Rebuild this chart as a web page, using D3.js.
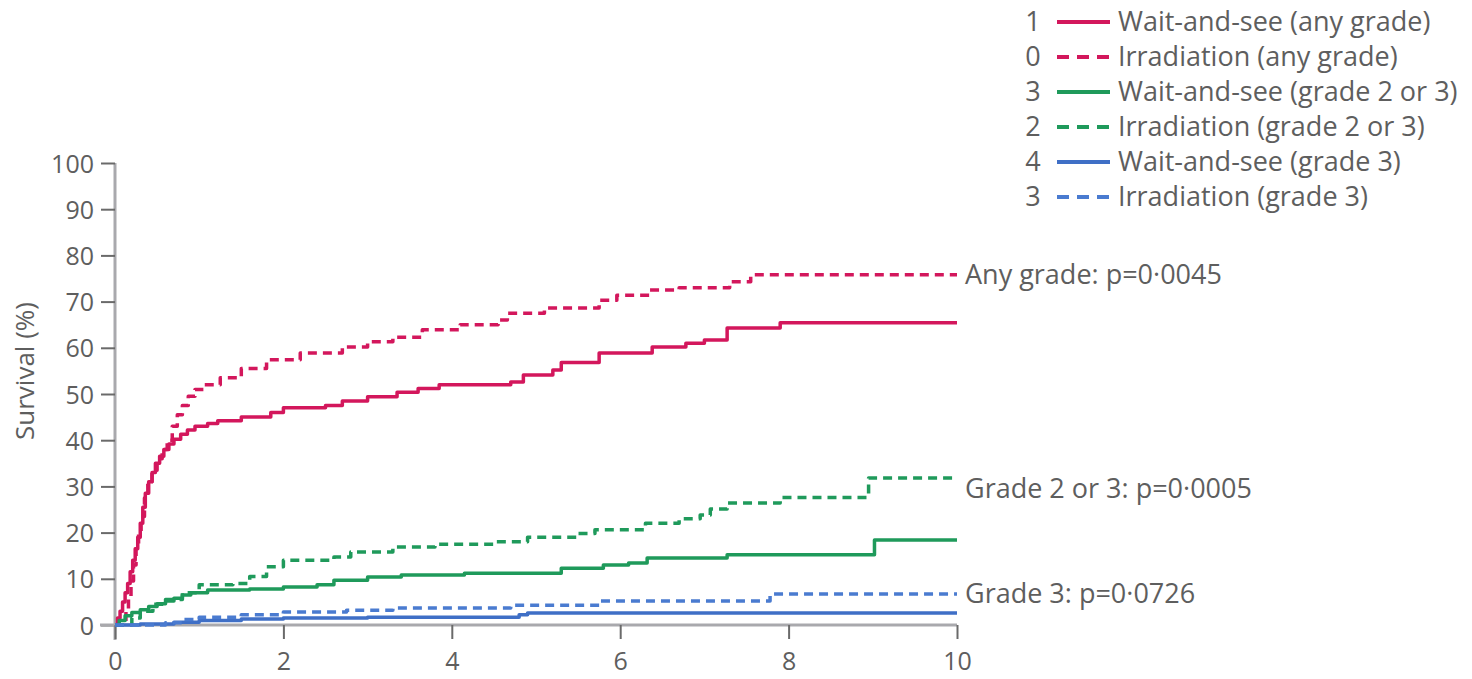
<!DOCTYPE html>
<html>
<head>
<meta charset="utf-8">
<script src="https://cdn.jsdelivr.net/npm/d3@7/dist/d3.min.js"></script>
<style>
  html, body { margin: 0; padding: 0; background: #fff; }
  svg { display: block; }
  text { font-family: "Open Sans", "Noto Sans", sans-serif; fill: #5e5e5e; }
</style>
</head>
<body>
<svg id="chart" width="1472" height="679"></svg>
<script>
// Cumulative incidence, in %, as [years, value] step points
const waitAny = [[0,0],[0.03,1.5],[0.06,3],[0.09,5],[0.12,7],[0.15,9],[0.18,11.5],[0.21,14],[0.24,16.5],[0.27,19],[0.3,22],[0.33,25.5],[0.36,28.5],[0.4,31],[0.44,33],[0.48,35],[0.53,36.5],[0.58,38],[0.64,39.2],[0.7,40.2],[0.78,41.3],[0.86,42.2],[0.95,43],[1.1,43.6],[1.22,44.2],[1.5,45],[1.85,46],[2.0,47],[2.5,47.5],[2.7,48.5],[3.0,49.4],[3.35,50.4],[3.6,51.2],[3.85,52],[4.7,52.6],[4.85,54.1],[5.2,55.2],[5.3,56.8],[5.75,58.9],[6.38,60.2],[6.78,61],[7.0,61.7],[7.27,64.3],[7.9,65.4],[10,65.4]];
const irrAny = [[0,0],[0.1,0],[0.13,3],[0.16,6],[0.19,9.5],[0.22,13],[0.25,16.5],[0.28,20],[0.31,23.5],[0.35,27.5],[0.39,31],[0.44,33.5],[0.5,36],[0.56,38],[0.62,40],[0.68,43],[0.74,45.5],[0.8,47.5],[0.87,49.5],[0.95,51],[1.05,52],[1.25,53.5],[1.5,55.5],[1.8,57.4],[2.2,58.9],[2.7,60.2],[3.0,61.3],[3.3,62.3],[3.65,63.9],[4.1,65],[4.55,66],[4.66,67.5],[5.1,68.6],[5.75,70.3],[5.96,71.4],[6.35,72.5],[6.7,73],[7.3,74.3],[7.55,75.8],[10,75.8]];
const waitG23 = [[0,0],[0.05,1],[0.12,2],[0.2,2.7],[0.3,3.3],[0.4,4],[0.5,4.6],[0.6,5.2],[0.7,5.8],[0.8,6.5],[0.9,7],[1.1,7.6],[1.6,7.8],[2.0,8.2],[2.4,8.7],[2.6,9.7],[3.0,10.4],[3.4,10.8],[4.15,11.2],[5.3,12.3],[5.8,13],[6.1,13.4],[6.32,14.5],[7.27,15.2],[9.02,18.4],[10,18.4]];
const irrG23 = [[0,0],[0.15,0],[0.2,1.5],[0.3,3],[0.45,4.5],[0.6,5.5],[0.8,7],[1.0,8.7],[1.4,9],[1.6,10.5],[1.8,12.6],[2.0,14],[2.6,14.7],[2.8,15.8],[3.3,16.9],[3.8,17.5],[4.5,18],[4.9,19],[5.5,19.8],[5.7,20.6],[6.3,22],[6.7,23],[6.95,23.8],[7.07,25.1],[7.27,26.4],[7.9,27.6],[8.95,31.8],[10,31.8]];
const waitG3 = [[0,0],[0.3,0.2],[0.7,0.6],[1.0,1.0],[1.5,1.3],[2.0,1.5],[3.0,1.7],[4.8,2.2],[4.9,2.6],[10,2.6]];
const irrG3 = [[0,0],[0.5,0],[0.6,0.5],[0.8,1.2],[1.0,1.7],[1.5,2.2],[2.0,2.8],[2.75,3.2],[3.3,3.7],[4.7,4.3],[5.75,5.2],[7.78,6.7],[10,6.7]];

const xTicks = [0, 2, 4, 6, 8, 10];
const yTicks = [0, 10, 20, 30, 40, 50, 60, 70, 80, 90, 100];

const legendCounts = ["1", "0", "3", "2", "4", "3"];
const legendLabels = [
  "Wait-and-see (any grade)",
  "Irradiation (any grade)",
  "Wait-and-see (grade 2 or 3)",
  "Irradiation (grade 2 or 3)",
  "Wait-and-see (grade 3)",
  "Irradiation (grade 3)"
];
const pLabels = ["Any grade: p=0·0045", "Grade 2 or 3: p=0·0005", "Grade 3: p=0·0726"];
const pLabelValues = [75.8, 31.8, 6.7];

const COL = { mag: "#d3175c", green: "#1f9a5b", blue: "#3f6fc6", blueLight: "#4a7bd0" };
const series = [
  { data: waitAny, color: COL.mag, dashed: false },
  { data: irrAny, color: COL.mag, dashed: true },
  { data: waitG23, color: COL.green, dashed: false },
  { data: irrG23, color: COL.green, dashed: true },
  { data: waitG3, color: COL.blue, dashed: false },
  { data: irrG3, color: COL.blueLight, dashed: true }
];

const FS = 27;
const svg = d3.select("#chart");
const x = d3.scaleLinear().domain([0, 10]).range([115, 957]);
const y = d3.scaleLinear().domain([0, 100]).range([625, 163]);

// y axis
const yAxis = svg.append("g").attr("transform", "translate(115,0)")
  .call(d3.axisLeft(y).tickValues(yTicks).tickSize(14).tickSizeOuter(0).tickPadding(7));
yAxis.select(".domain").attr("d", `M0,${y(100)}V640`).attr("stroke", "#a9a9ad").attr("stroke-width", 3);
yAxis.selectAll(".tick line").attr("stroke", "#6a6a6a").attr("stroke-width", 2);
yAxis.selectAll(".tick text").attr("font-size", 25).attr("fill", "#5e5e5e")
  .attr("font-family", "'Open Sans', sans-serif").attr("dy", "0.36em");

// x axis
const xAxis = svg.append("g").attr("transform", `translate(0,${y(0)})`)
  .call(d3.axisBottom(x).tickValues(xTicks).tickSize(14).tickSizeOuter(0).tickPadding(13));
xAxis.select(".domain").attr("d", `M100,0H${x(10)}`).attr("stroke", "#a9a9ad").attr("stroke-width", 3);
xAxis.selectAll(".tick line").attr("stroke", "#6a6a6a").attr("stroke-width", 2);
xAxis.selectAll(".tick text").attr("font-size", 25).attr("fill", "#5e5e5e")
  .attr("font-family", "'Open Sans', sans-serif");

// y axis title
svg.append("text")
  .attr("transform", "translate(34,371) rotate(-90)")
  .attr("text-anchor", "middle")
  .attr("font-size", 26)
  .text("Survival (%)");

// curves
const line = d3.line().x(d => x(d[0])).y(d => y(d[1])).curve(d3.curveStepAfter);
series.forEach(s => {
  svg.append("path")
    .datum(s.data)
    .attr("fill", "none")
    .attr("stroke", s.color)
    .attr("stroke-width", 3.5)
    .attr("stroke-linejoin", "round")
    .attr("stroke-dasharray", s.dashed ? "9,6" : null)
    .attr("d", line);
});

// p-value annotations
const pOffsets = [0, 10, 0];
pLabels.forEach((t, i) => {
  svg.append("text")
    .attr("x", 965)
    .attr("y", y(pLabelValues[i]) + pOffsets[i])
    .attr("dy", "0.35em")
    .attr("font-size", FS)
    .text(t);
});

// legend
const legend = svg.append("g");
legendLabels.forEach((lab, i) => {
  const ly = 22 + i * 35;
  const s = series[i];
  legend.append("text").attr("x", 1033).attr("y", ly).attr("dy", "0.35em")
    .attr("text-anchor", "middle").attr("font-size", FS).text(legendCounts[i]);
  legend.append("line").attr("x1", 1057).attr("x2", 1110).attr("y1", ly).attr("y2", ly)
    .attr("stroke", s.color).attr("stroke-width", 4)
    .attr("stroke-dasharray", s.dashed ? "12,8" : null);
  legend.append("text").attr("x", 1118).attr("y", ly).attr("dy", "0.35em")
    .attr("font-size", FS).text(lab);
});
</script>
</body>
</html>
